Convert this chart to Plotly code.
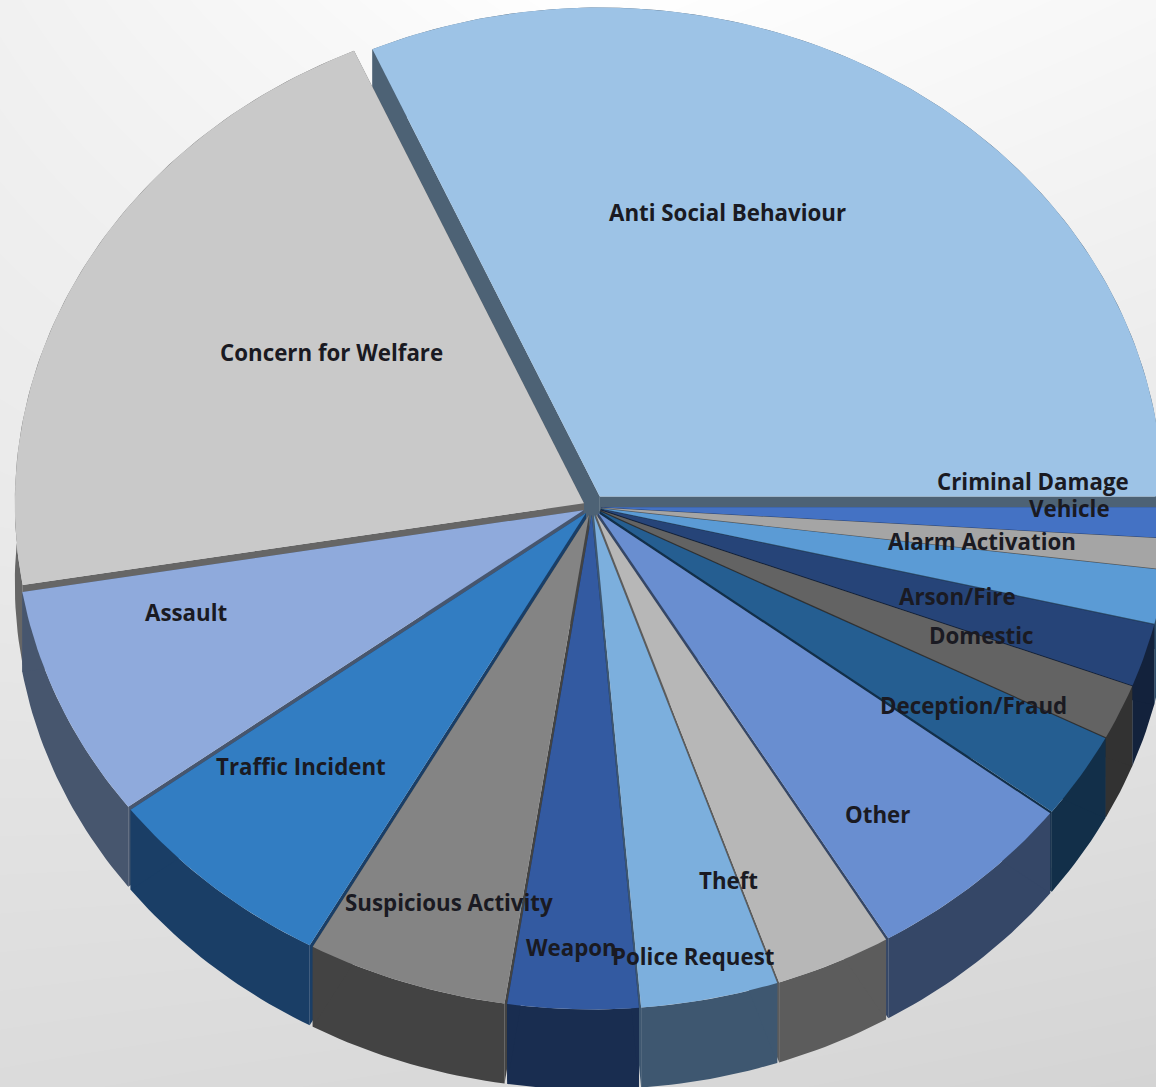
import math
import plotly.graph_objects as go

# Call categories, clockwise from the east edge of the pie
categories = ["Criminal Damage", "Vehicle", "Alarm Activation", "Arson/Fire", "Domestic",
              "Deception/Fraud", "Other", "Theft", "Police Request", "Weapon",
              "Suspicious Activity", "Traffic Incident", "Assault", "Concern for Welfare",
              "Anti Social Behaviour"]
# Share of calls, percent
shares = [1.0, 1.0, 1.75, 2.05, 1.8, 2.8, 6.1, 3.3, 3.9, 3.7, 5.7, 6.7, 7.6, 21.05, 31.65]

top_colors = ["#4472C4", "#A5A5A5", "#5B9BD5", "#264478", "#636363", "#255E91", "#698ED0",
              "#B7B7B7", "#7CAFDD", "#335AA1", "#848484", "#327DC2", "#8FAADC", "#C9C9C9",
              "#9DC3E6"]
wall_colors = ["#263F6E", "#5C5C5C", "#2E4E6B", "#13223C", "#323232", "#122F49", "#354767",
               "#5C5C5C", "#3E5770", "#192D50", "#434343", "#1A3E66", "#47566E", "#666666",
               "#4D6275"]
# Radial pull of each slice away from the pie centre, in radius units
explode = [0.016] * 14 + [0.025]
# Radius of each slice once pulled out
slice_radius = [0.995] * 14 + [0.984]

# Label anchors in pixels, converted to paper fractions below
label_x = [1033, 1069, 982, 957, 981, 973, 877, 729, 693, 571, 449, 301, 186, 331, 727]
label_y = [481, 508, 541, 596, 636, 705, 814, 880, 956, 948, 902, 766, 612, 352, 212]

WIDTH, HEIGHT = 1156, 1087
CENTER_X, CENTER_Y = 592, 507
RADIUS_X, RADIUS_Y = 572, 497
DEPTH = 80 / RADIUS_Y

# Axes map the unit circle onto the tilted ellipse of the pie
x_range = [-CENTER_X / RADIUS_X, (WIDTH - CENTER_X) / RADIUS_X]
y_range = [-(HEIGHT - CENTER_Y) / RADIUS_Y, CENTER_Y / RADIUS_Y]


def add_poly(fig, xs, ys, color):
    fig.add_trace(go.Scatter(x=xs, y=ys, mode="lines", fill="toself", fillcolor=color,
                             line=dict(width=0, color=color), hoverinfo="skip", showlegend=False))


fig = go.Figure()

# Soft light-grey backdrop, brighter towards the top
fig.add_trace(go.Heatmap(
    x=[x_range[0], 0, x_range[1]], y=[y_range[0], 0, y_range[1]],
    z=[[219, 216, 212], [234, 237, 232], [241, 255, 247]],
    zmin=0, zmax=255, zsmooth="best", showscale=False, hoverinfo="skip",
    colorscale=[[0, "#000000"], [1, "#ffffff"]]))

total = sum(shares)
spans, start = [], 0.0
for share in shares:
    spans.append((start, start + share / total * 2 * math.pi))
    start = spans[-1][1]


def depth_key(i):
    return math.sin(sum(spans[i]) / 2)


# Back slices first, so nearer ones cover their walls
for i in sorted(range(len(shares)), key=depth_key):
    a0, a1 = spans[i]
    mid = (a0 + a1) / 2
    ox, oy = explode[i] * math.cos(mid), -explode[i] * math.sin(mid)
    r = slice_radius[i]
    steps = max(4, int((a1 - a0) * 60))
    angles = [a0 + (a1 - a0) * k / steps for k in range(steps + 1)]
    rim_x = [ox + r * math.cos(a) for a in angles]
    rim_y = [oy - r * math.sin(a) for a in angles]

    # Outer wall of the slice where it faces the viewer
    add_poly(fig, rim_x + rim_x[::-1], rim_y + [y - DEPTH for y in rim_y[::-1]], wall_colors[i])
    # Cut faces on both radial edges
    for ex, ey in ((rim_x[0], rim_y[0]), (rim_x[-1], rim_y[-1])):
        add_poly(fig, [ox, ex, ex, ox], [oy, ey, ey - DEPTH, oy - DEPTH], wall_colors[i])
    # Top face
    add_poly(fig, [ox] + rim_x + [ox], [oy] + rim_y + [oy], top_colors[i])

annotations = [
    dict(text=f"<b>{name}</b>", x=lx / WIDTH, y=1 - ly / HEIGHT, xref="paper", yref="paper",
         showarrow=False, xanchor="center", yanchor="middle",
         font=dict(family="Open Sans", size=22.3, color="#1a1a22"))
    for name, lx, ly in zip(categories, label_x, label_y)
]

fig.update_layout(
    width=WIDTH, height=HEIGHT, margin=dict(l=0, r=0, t=0, b=0),
    paper_bgcolor="#ffffff", plot_bgcolor="#ffffff", showlegend=False,
    xaxis=dict(range=x_range, visible=False, fixedrange=True),
    yaxis=dict(range=y_range, visible=False, fixedrange=True),
    annotations=annotations,
)
fig.write_html("out.html", config={"displayModeBar": False})
